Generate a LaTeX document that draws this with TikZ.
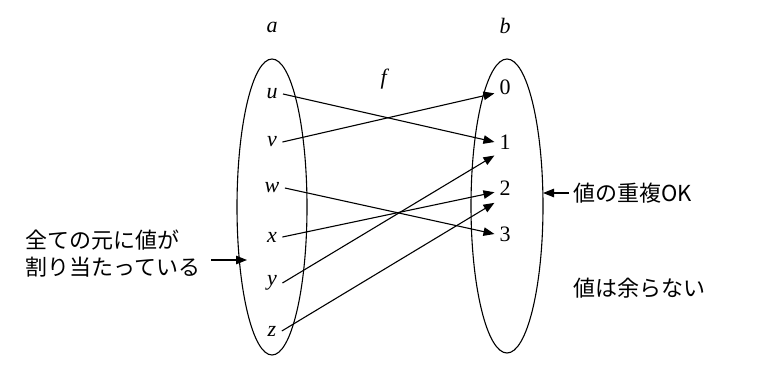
\documentclass[tikz,border=0pt]{standalone}
\usepackage{fontspec}
\setmainfont{Liberation Serif}
\newfontfamily\jp{Noto Sans CJK JP}
\usetikzlibrary{arrows.meta}
\tikzset{
  map/.style={-{Triangle[length=11pt,width=8.5pt]}},
  elem/.style={inner sep=0pt, inner xsep=5pt},
  val/.style={inner sep=0pt, inner xsep=4.5pt, inner ysep=7pt},
  note/.style={font=\jp\fontsize{22}{27}\selectfont, align=left}
}
\begin{document}
\begin{tikzpicture}[x=1pt, y=-1pt, line width=1.1pt,
    font=\fontsize{22}{27}\selectfont]
  \useasboundingbox (0,0) rectangle (767,367);
  % the two sets
  \draw (272,207) ellipse (35pt and 148pt);
  \draw (507,206) ellipse (36pt and 147pt);
  \node (lblA) at (272,27) {\textit{a}};
  \node (lblB) at (505,26) {\textit{b}};
  \node (lblF) at (385,79) {\textit{f}};
  % elements of a
  \node[elem] (au) at (272,94) {\textit{u}};
  \node[elem] (av) at (272,142) {\textit{v}};
  \node[elem] (aw) at (272,188) {\textit{w}};
  \node[elem] (ax) at (272,237) {\textit{x}};
  \node[elem] (ay) at (272,283) {\textit{y}};
  \node[elem] (az) at (272,331) {\textit{z}};
  % values in b
  \node[val] (b0) at (505,87) {0};
  \node[val] (b1) at (505,142) {1};
  \node[val] (b2) at (505,188) {2};
  \node[val] (b3) at (505,234) {3};
  % the mapping
  \draw[map] (au.east) -- (b1.west);
  \draw[map] (av.east) -- (b0.211);
  \draw[map] (aw.east) -- (b3.west);
  \draw[map] (ax.east) -- (b2.202);
  \draw[map] (ay.east) -- (b1.232);
  \draw[map] (az.east) -- (b2.south west);
  % notes
  \coordinate (hitA) at (247,260);
  \coordinate (hitB) at (543,193);
  \node[note, anchor=west, inner sep=4pt, inner xsep=10pt] (allMapped) at (15,253.5)
    {全ての元に値が\\割り当たっている};
  \node[note, anchor=west, inner sep=4pt] (dupOk) at (569,193) {値の重複OK};
  \node[note, anchor=west, inner sep=4pt] (noRest) at (569,288) {値は余らない};
  \draw[map] (allMapped.east |- hitA) -- (hitA);
  \draw[map] (dupOk.west) -- (hitB);
\end{tikzpicture}
\end{document}
